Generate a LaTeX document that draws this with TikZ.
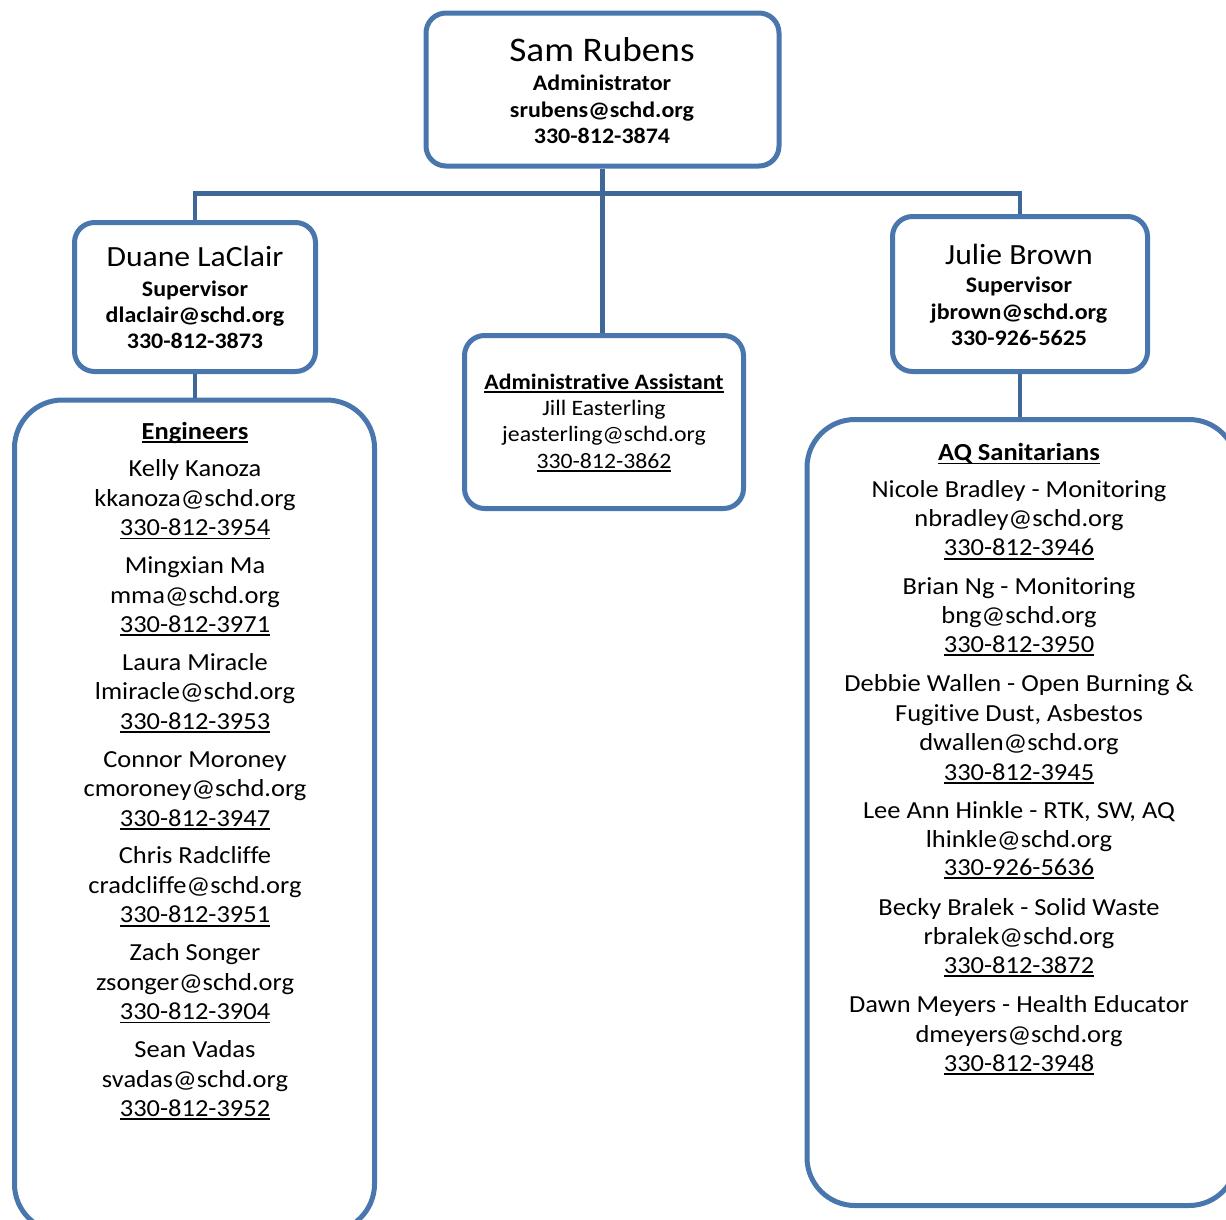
\documentclass[tikz,border=0pt]{standalone}
\usepackage{fontspec}
\setmainfont{Carlito}[FakeStretch=1.08,Ligatures={NoCommon}]
\definecolor{boxblue}{HTML}{4A76AE}
\definecolor{lineblue}{HTML}{3F6899}
\newcommand\ulx[1]{\setbox0=\hbox{#1}\rlap{\rule[-3.6pt]{\wd0}{1.8pt}}\box0}
\begin{document}
\begin{tikzpicture}[x=1pt,y=-1pt,
  box/.style={draw=boxblue,line width=5pt,rounded corners=20pt,fill=white,inner sep=0pt},
  bigbox/.style={box,rounded corners=48pt},
  conn/.style={draw=lineblue,line width=4.5pt},
  t/.style={anchor=base,inner sep=0pt},
  lst/.style={t,font=\fontsize{24.5}{29}\selectfont},
  lsth/.style={t,font=\fontsize{24.5}{29}\selectfont\bfseries},
  sb/.style={t,font=\fontsize{22.2}{26}\selectfont\bfseries},
  mt/.style={t,font=\fontsize{22}{26}\selectfont},
  mth/.style={t,font=\fontsize{22}{26}\selectfont\bfseries},
  nm/.style={t,font=\fontsize{29.3}{34}\selectfont},
  bignm/.style={t,font=\fontsize{34.5}{40}\selectfont}]
\useasboundingbox (0,0) rectangle (1226,1219);
\clip (0,0) rectangle (1226,1219);

% boxes
\node[box,minimum width=353pt,minimum height=153pt] (top) at (602.5,89.5) {};
\node[box,minimum width=241pt,minimum height=149pt] (lsup) at (195,297) {};
\node[box,minimum width=255pt,minimum height=155pt] (rsup) at (1020,294) {};
\node[box,minimum width=279pt,minimum height=173pt] (mid) at (604,422) {};
\node[bigbox,minimum width=360pt,minimum height=832pt] (lbig) at (194.5,816) {};
\node[bigbox,minimum width=430pt,minimum height=786pt] (rbig) at (1022,812.5) {};

% connectors
\draw[conn] (top.south) -- ++(0,25) coordinate (j);
\draw[conn] (j) -| (lsup.north);
\draw[conn] (j) -| (rsup.north);
\draw[conn] (j) -- (j |- mid.north);
\draw[conn] (lsup.south) -- (lsup.south |- lbig.north);
\draw[conn] (rsup.south) -- (rsup.south |- rbig.north);

% top box
\node[bignm] (t1) at (602,61.7) {Sam Rubens};
\node[sb] (t2) at (602,90.7) {Administrator};
\node[sb] (t3) at (602,117.2) {srubens@schd.org};
\node[sb] (t4) at (602,143.7) {330-812-3874};

% left supervisor
\node[nm] (l1) at (195,266.7) {Duane LaClair};
\node[sb] (l2) at (195,296.6) {Supervisor};
\node[sb] (l3) at (195,322.4) {dlaclair@schd.org};
\node[sb] (l4) at (195,348) {330-812-3873};

% right supervisor
\node[nm] (r1) at (1019,264) {Julie Brown};
\node[sb] (r2) at (1019,292.7) {Supervisor};
\node[sb] (r3) at (1019,319) {jbrown@schd.org};
\node[sb] (r4) at (1019,345) {330-926-5625};

% middle
\node[mth] (m1) at (604,389.3) {\ulx{Administrat\kern0pt ive Assistant}};
\node[mt] (m2) at (604,415.5) {Jill Easterling};
\node[mt] (m3) at (604,441.7) {jeasterling@schd.org};
\node[mt] (m4) at (604,468) {\ulx{330-812-3862}};

% engineers
\node[lsth] (eh) at (195,439.3) {\ulx{Engineers}};
\foreach \a/\b/\c [count=\k from 0] in {
  Kelly Kanoza/kkanoza@schd.org/330-812-3954,
  Mingxian Ma/mma@schd.org/330-812-3971,
  Laura Miracle/lmiracle@schd.org/330-812-3953,
  Connor Moroney/cmoroney@schd.org/330-812-3947,
  Chris Radcliffe/cradcliffe@schd.org/330-812-3951,
  Zach Songer/zsonger@schd.org/330-812-3904,
  Sean Vadas/svadas@schd.org/330-812-3952}{
  \node[lst] (e\k-n) at (195,{476.7+96.8*\k}) {\a};
  \node[lst] (e\k-e) at (195,{506.2+96.8*\k}) {\b};
  \node[lst] (e\k-p) at (195,{535.7+96.8*\k}) {\ulx{\c}};
}

% AQ sanitarians
\node[lsth] (sh) at (1019,460.7) {\ulx{AQ Sanitarians}};
\node[lst] (s1n) at (1019,497.3) {Nicole Bradley - Monitoring};
\node[lst] (s1e) at (1019,526.6) {nbradley@schd.org};
\node[lst] (s1p) at (1019,555.9) {\ulx{330-812-3946}};
\node[lst] (s2n) at (1019,594) {Brian Ng - Monitoring};
\node[lst] (s2e) at (1019,623.3) {bng@schd.org};
\node[lst] (s2p) at (1019,652.6) {\ulx{330-812-3950}};
\node[lst] (s3n) at (1019,691.7) {Debbie Wallen - Open Burning \&};
\node[lst] (s3a) at (1019,721.2) {Fugit\kern0pt ive Dust, Asbestos};
\node[lst] (s3e) at (1019,750.7) {dwallen@schd.org};
\node[lst] (s3p) at (1019,780) {\ulx{330-812-3945}};
\node[lst] (s4n) at (1019,818.3) {Lee Ann Hinkle - RTK, SW, AQ};
\node[lst] (s4e) at (1019,847) {lhinkle@schd.org};
\node[lst] (s4p) at (1019,875.5) {\ulx{330-926-5636}};
\node[lst] (s5n) at (1019,915) {Becky Bralek - Solid Waste};
\node[lst] (s5e) at (1019,944.3) {rbralek@schd.org};
\node[lst] (s5p) at (1019,973.6) {\ulx{330-812-3872}};
\node[lst] (s6n) at (1019,1012.7) {Dawn Meyers - Health Educator};
\node[lst] (s6e) at (1019,1042) {dmeyers@schd.org};
\node[lst] (s6p) at (1019,1071.3) {\ulx{330-812-3948}};
\end{tikzpicture}
\end{document}
